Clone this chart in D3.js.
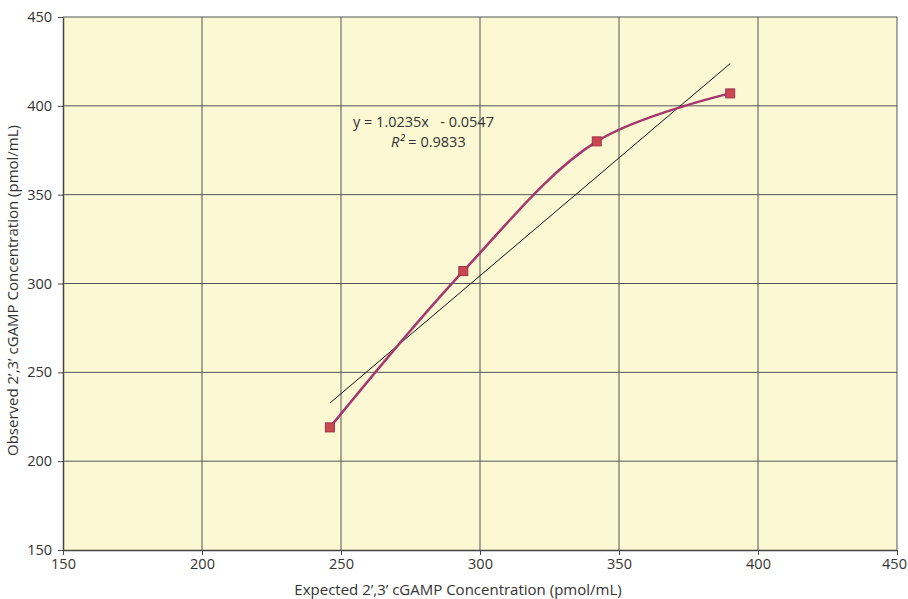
<!DOCTYPE html>
<html>
<head>
<meta charset="utf-8">
<script src="https://cdn.jsdelivr.net/npm/d3@7"></script>
<style>
  body { margin: 0; background: #fff; }
  text { font-family: "Open Sans", "Noto Sans", sans-serif; fill: #333; }
</style>
</head>
<body>
<div id="chart"></div>
<script>
// data
var expected = [246, 294, 342, 390];
var observed = [219, 307, 380, 407];
var xTicks = [150, 200, 250, 300, 350, 400, 450];
var yTicks = [150, 200, 250, 300, 350, 400, 450];
var eqLabel = "y = 1.0235x   - 0.0547";
var r2Name = "R²";
var r2Value = "= 0.9833";

var margin = {top: 17, right: 11, bottom: 49, left: 63},
    width = 908 - margin.left - margin.right,
    height = 599 - margin.top - margin.bottom;

var svg = d3.select("#chart")
  .append("svg")
  .attr("width", 908)
  .attr("height", 599)
  .append("g")
  .attr("transform", "translate(" + margin.left + "," + margin.top + ")");

var x = d3.scaleLinear().domain([150, 450]).range([0, width]);
var y = d3.scaleLinear().domain([150, 450]).range([height, 0]);

// plot background
svg.append("rect")
  .attr("width", width)
  .attr("height", height)
  .attr("fill", "#fbf8d3");

// grid
svg.append("g")
  .selectAll("line")
  .data(xTicks.slice(1))
  .enter().append("line")
    .attr("x1", function(d) { return x(d); })
    .attr("x2", function(d) { return x(d); })
    .attr("y1", 0).attr("y2", height)
    .attr("stroke", "#555")
    .attr("stroke-width", 1);

svg.append("g")
  .selectAll("line")
  .data(yTicks.slice(1))
  .enter().append("line")
    .attr("y1", function(d) { return y(d); })
    .attr("y2", function(d) { return y(d); })
    .attr("x1", 0).attr("x2", width)
    .attr("stroke", "#555")
    .attr("stroke-width", 1);

// axes
var xAxis = svg.append("g")
  .attr("transform", "translate(0," + height + ")")
  .call(d3.axisBottom(x).tickValues(xTicks).tickSize(5).tickSizeOuter(0).tickPadding(4));
var yAxis = svg.append("g")
  .call(d3.axisLeft(y).tickValues(yTicks).tickSize(5).tickSizeOuter(0).tickPadding(6));

[xAxis, yAxis].forEach(function(a) {
  a.select(".domain").attr("stroke", "#444").attr("stroke-width", 1.5);
  a.selectAll(".tick line").attr("stroke", "#444");
  a.selectAll(".tick text")
    .style("font-family", "'Open Sans', sans-serif")
    .style("font-size", "14.5px")
    .attr("fill", "#333");
});
// keep the last x label inside the page
xAxis.selectAll(".tick text").filter(function(d) { return d === 450; })
  .attr("dx", -3);

// linear trendline (least squares over the points)
var mx = d3.mean(expected), my = d3.mean(observed);
var sxy = d3.sum(expected, function(d, i) { return (d - mx) * (observed[i] - my); });
var sxx = d3.sum(expected, function(d) { return (d - mx) * (d - mx); });
var slope = sxy / sxx, icpt = my - slope * mx;
var x0 = d3.min(expected), x1 = d3.max(expected);

svg.append("line")
  .attr("x1", x(x0)).attr("y1", y(slope * x0 + icpt))
  .attr("x2", x(x1)).attr("y2", y(slope * x1 + icpt))
  .attr("stroke", "#111")
  .attr("stroke-width", 1);

// smoothed series line
var pts = expected.map(function(d, i) { return [d, observed[i]]; });
var line = d3.line()
  .x(function(d) { return x(d[0]); })
  .y(function(d) { return y(d[1]); })
  .curve(d3.curveCatmullRom.alpha(0.5));

svg.append("path")
  .datum(pts)
  .attr("d", line)
  .attr("fill", "none")
  .attr("stroke", "#a3376e")
  .attr("stroke-width", 2.5);

// markers
svg.selectAll("rect.pt")
  .data(pts)
  .enter().append("rect")
    .attr("class", "pt")
    .attr("x", function(d) { return x(d[0]) - 4.5; })
    .attr("y", function(d) { return y(d[1]) - 4.5; })
    .attr("width", 9)
    .attr("height", 9)
    .attr("fill", "#c9474f")
    .attr("stroke", "#a0324a")
    .attr("stroke-width", 1);

// equation label
svg.append("text")
  .attr("x", 290).attr("y", 110)
  .style("font-size", "14.5px")
  .attr("xml:space", "preserve")
  .style("white-space", "pre")
  .text(eqLabel);

var r2a = svg.append("text")
  .attr("x", 328).attr("y", 130)
  .style("font-size", "14.5px")
  .style("font-style", "italic")
  .text(r2Name);
var r2w = r2a.node().getComputedTextLength();
svg.append("text")
  .attr("x", 328 + r2w + 4).attr("y", 130)
  .style("font-size", "14.5px")
  .text(r2Value);

// axis titles
svg.append("text")
  .attr("x", width / 2 - 22)
  .attr("y", height + 45)
  .attr("text-anchor", "middle")
  .style("font-size", "15px")
  .text("Expected 2’,3’ cGAMP Concentration (pmol/mL)");

svg.append("text")
  .attr("transform", "rotate(-90)")
  .attr("x", -height / 2 - 7)
  .attr("y", -45)
  .attr("text-anchor", "middle")
  .style("font-size", "15px")
  .text("Observed 2’,3’ cGAMP Concentration (pmol/mL)");
</script>
</body>
</html>
